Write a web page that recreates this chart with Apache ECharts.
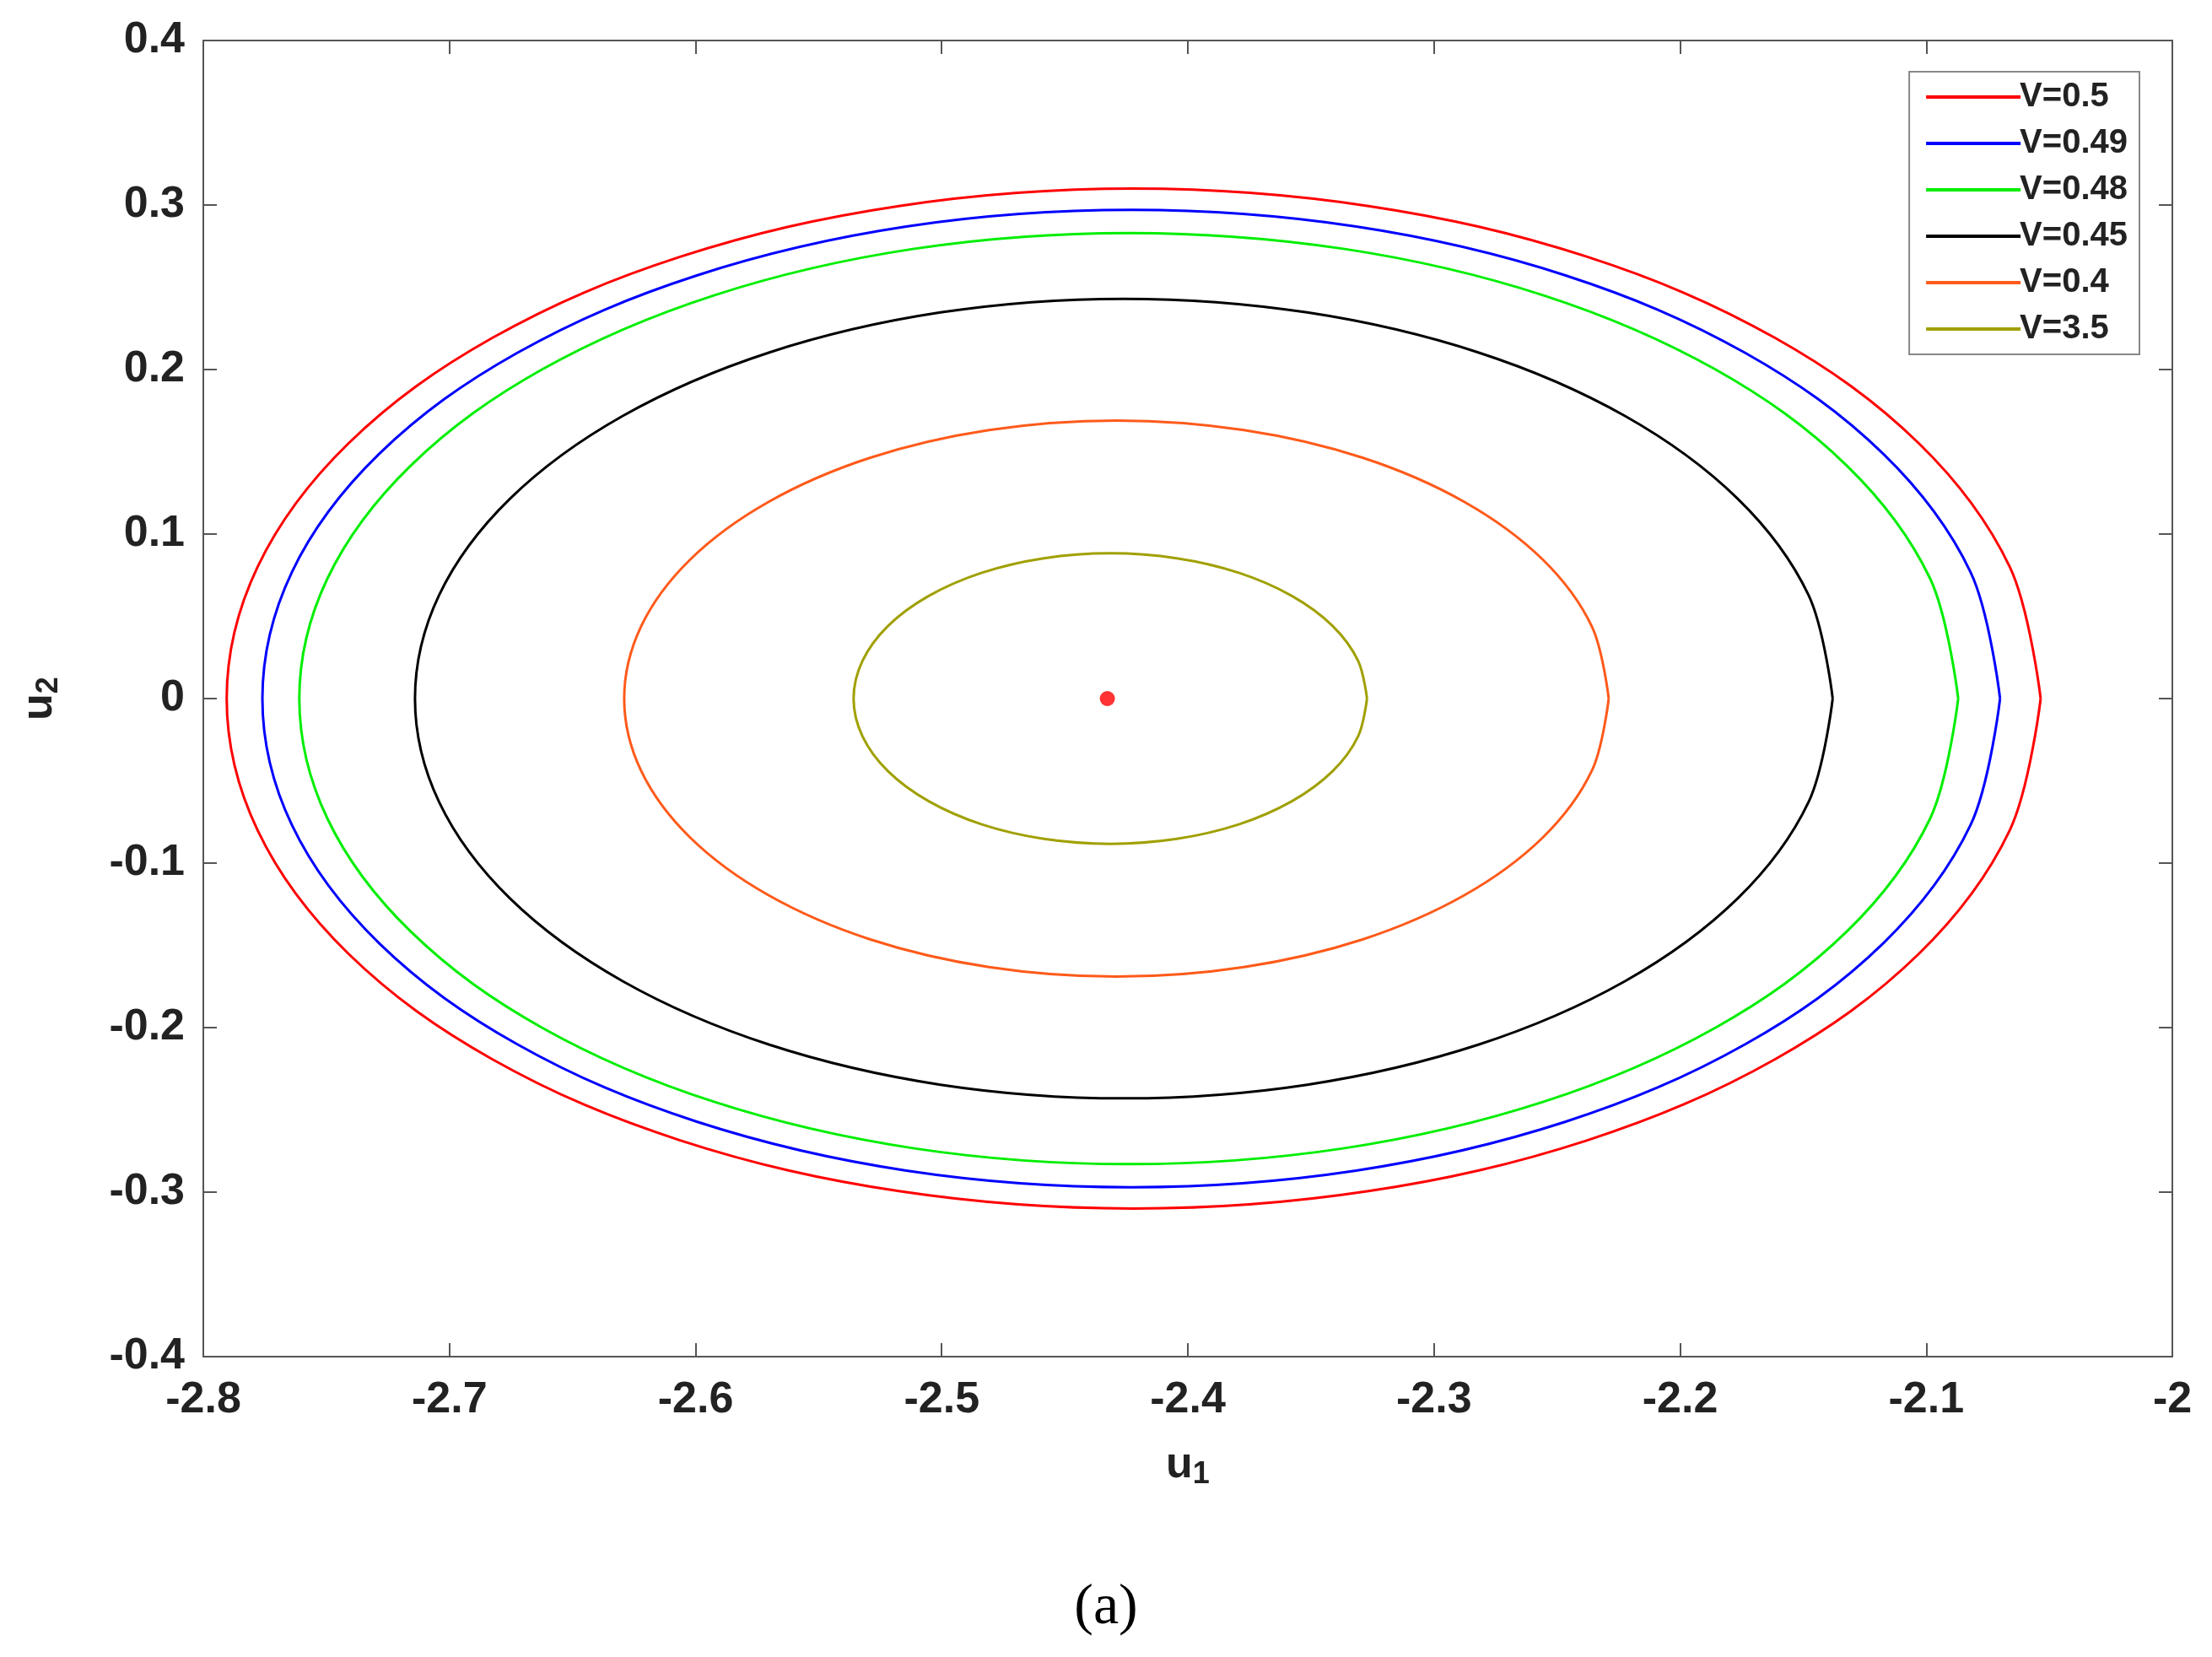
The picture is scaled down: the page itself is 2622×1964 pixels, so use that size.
<!DOCTYPE html>
<html><head><meta charset="utf-8">
<script src="https://cdn.jsdelivr.net/npm/echarts@6/dist/echarts.min.js"></script>
<style>html,body{margin:0;background:#fff}#c{width:2622px;height:1964px}
#cap{position:absolute;left:0;width:2622px;top:1862px;text-align:center;font:68px "Liberation Serif",serif;color:#000}</style>
</head><body><div id="c"></div><div id="cap">(a)</div>
<script>
const names=['V=0.5','V=0.49','V=0.48','V=0.45','V=0.4','V=3.5'];
const colors=['#ff0000','#0000ff','#00ee00','#000000','#ff5a1a','#a0a000'];
// upper halves, right to left: u1 values and u2 values
const ux=[
[-2.0535,-2.0661,-2.1029,-2.1614,-2.2377,-2.3266,-2.422,-2.5174,-2.6063,-2.6826,-2.7411,-2.7779,-2.7905],
[-2.070,-2.082,-2.1173,-2.1734,-2.2465,-2.3316,-2.423,-2.5144,-2.5995,-2.6726,-2.7287,-2.764,-2.776],
[-2.087,-2.0985,-2.1322,-2.1857,-2.2555,-2.3368,-2.424,-2.5112,-2.5925,-2.6623,-2.7158,-2.7495,-2.761],
[-2.138,-2.1478,-2.1766,-2.2224,-2.282,-2.3515,-2.426,-2.5005,-2.570,-2.6296,-2.6754,-2.7042,-2.714],
[-2.229,-2.2358,-2.2558,-2.2876,-2.329,-2.3772,-2.429,-2.4808,-2.529,-2.5704,-2.6022,-2.6222,-2.629],
[-2.3272,-2.3308,-2.3412,-2.3577,-2.3793,-2.4045,-2.4315,-2.4585,-2.4837,-2.5053,-2.5218,-2.5322,-2.5358]
];
const uy=[
[0,0.0802,0.155,0.2192,0.2685,0.2994,0.310,0.2994,0.2685,0.2192,0.155,0.0802,0],
[0,0.0769,0.1485,0.21,0.2572,0.2869,0.297,0.2869,0.2572,0.21,0.1485,0.0769,0],
[0,0.0732,0.1415,0.2001,0.2451,0.2734,0.283,0.2734,0.2451,0.2001,0.1415,0.0732,0],
[0,0.0629,0.1215,0.1718,0.2104,0.2347,0.243,0.2347,0.2104,0.1718,0.1215,0.0629,0],
[0,0.0437,0.0845,0.1195,0.1464,0.1632,0.169,0.1632,0.1464,0.1195,0.0845,0.0437,0],
[0,0.0229,0.0442,0.0624,0.0765,0.0853,0.0883,0.0853,0.0765,0.0624,0.0442,0.0229,0]
];
const centerPoint=[-2.4327,0];
// closed curve: upper half, then its mirror image below (curves are symmetric about u2=0)
function curve(xs,ys){const up=xs.map((x,i)=>[x,ys[i]]);const low=[];for(let i=xs.length-2;i>=0;i--)low.push([xs[i],-ys[i]]);return up.concat(low);}
const series=ux.map((xs,i)=>({name:names[i],type:'line',data:curve(xs,uy[i]),smooth:0.35,symbol:'none',
 lineStyle:{color:colors[i],width:3},itemStyle:{color:colors[i]},z:2}));
series.push({type:'scatter',data:[centerPoint],symbolSize:18,itemStyle:{color:'#ff0000'},z:3});
const ax={axisLine:{show:true,onZero:false,lineStyle:{color:'#555',width:2}},axisTick:{inside:true,length:16,lineStyle:{color:'#555',width:2}},splitLine:{show:false}};
const lab={fontSize:52,fontWeight:'bold',color:'#222',fontFamily:'Liberation Sans, Arial'};
const nameStyle={fontSize:52,fontWeight:'bold',color:'#222',rich:{s:{fontSize:36,fontWeight:'bold',color:'#222',padding:[22,0,0,0]}}};
const chart=echarts.init(document.getElementById('c'));
chart.setOption({
 animation:false,
 grid:{left:241,right:47,top:48,bottom:356},
 xAxis:[{type:'value',min:-2.8,max:-2,interval:0.1,...ax,axisLabel:{...lab,margin:26,formatter:v=>String(+v.toFixed(1))},
   name:'u{s|1}',nameLocation:'middle',nameGap:100,nameTextStyle:nameStyle},
  {type:'value',position:'top',min:-2.8,max:-2,interval:0.1,...ax,axisLabel:{show:false}}],
 yAxis:[{type:'value',min:-0.4,max:0.4,interval:0.1,...ax,axisLabel:{...lab,margin:22,formatter:v=>String(+v.toFixed(1))},
   name:'u{s|2}',nameLocation:'middle',nameGap:165,nameTextStyle:nameStyle},
  {type:'value',position:'right',min:-0.4,max:0.4,interval:0.1,...ax,axisLabel:{show:false}}],
 legend:{data:names,orient:'vertical',right:86,top:85,itemWidth:112,itemHeight:4,itemGap:15,
  backgroundColor:'#fff',borderColor:'#888',borderWidth:2,padding:[10,14,10,20],
  textStyle:{fontSize:40,fontWeight:'bold',color:'#222',padding:[0,0,0,-6]},icon:'rect'},
 series
});
</script></body></html>
